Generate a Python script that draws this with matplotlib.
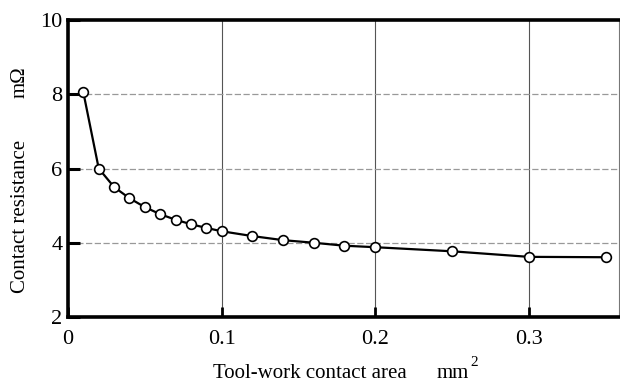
import matplotlib
matplotlib.use("Agg")
import matplotlib.pyplot as plt

area = [0.01, 0.02, 0.03, 0.04, 0.05, 0.06, 0.07, 0.08, 0.09, 0.10,
        0.12, 0.14, 0.16, 0.18, 0.20, 0.25, 0.30, 0.35]
resistance = [8.05, 6.0, 5.5, 5.2, 4.96, 4.77, 4.62, 4.50, 4.40, 4.31,
              4.18, 4.07, 4.0, 3.92, 3.88, 3.77, 3.62, 3.61]
xticks = [0, 0.1, 0.2, 0.3]
xticklabels = ["0", "0.1", "0.2", "0.3"]
yticks = [2, 4, 6, 8, 10]

plt.rcParams['font.family'] = ['Liberation Serif', 'DejaVu Serif']

fig = plt.figure(figsize=(6.2, 3.83), dpi=100)
W, H = 620, 383
x0, x1, ytop, ybot = 68, 619, 20, 317
ax = fig.add_axes([x0 / W, 1 - ybot / H, (x1 - x0) / W, (ybot - ytop) / H])

ax.plot(area, resistance, color='black', lw=1.6, marker='o', ms=7,
        mfc='white', mec='black', mew=1.2, zorder=3, clip_on=False)

ax.set_xlim(0, 0.3587)
ax.set_ylim(2, 10)
ax.set_xticks(xticks)
ax.set_xticklabels(xticklabels)
ax.set_yticks(yticks)

for v in [0.1, 0.2, 0.3]:
    ax.axvline(v, color='#555555', lw=0.8, zorder=1)
for v in [4, 6, 8]:
    ax.axhline(v, color='#999999', lw=0.9, ls=(0, (5, 2)), zorder=1)

for s in ['left', 'top', 'bottom']:
    ax.spines[s].set_linewidth(2.6)
    ax.spines[s].set_color('black')
ax.spines['right'].set_linewidth(0.8)
ax.spines['right'].set_color('#777777')

ax.tick_params(axis='y', direction='in', length=8.5, width=2.2, labelsize=16, pad=4)
ax.tick_params(axis='x', direction='in', length=7, width=2.0, labelsize=16, pad=9)
ax.tick_params(axis='y', which='both', right=False)
ax.tick_params(axis='x', which='both', top=False)

fig.text(213 / W, 1 - 378 / H, "Tool-work contact area", fontsize=15,
         ha='left', va='baseline')
fig.text(437 / W, 1 - 378 / H, "mm", fontsize=15, ha='left', va='baseline')
fig.text(470 / W, 1 - 366 / H, "2", fontsize=11, ha='left', va='baseline')

fig.text(25 / W, 1 - 293 / H, "Contact resistance", fontsize=15,
         rotation=90, ha='left', va='baseline', rotation_mode='anchor')
fig.text(25 / W, 1 - 98 / H, "mΩ", fontsize=15,
         rotation=90, ha='left', va='baseline', rotation_mode='anchor')

fig.savefig("out.png", dpi=100)
